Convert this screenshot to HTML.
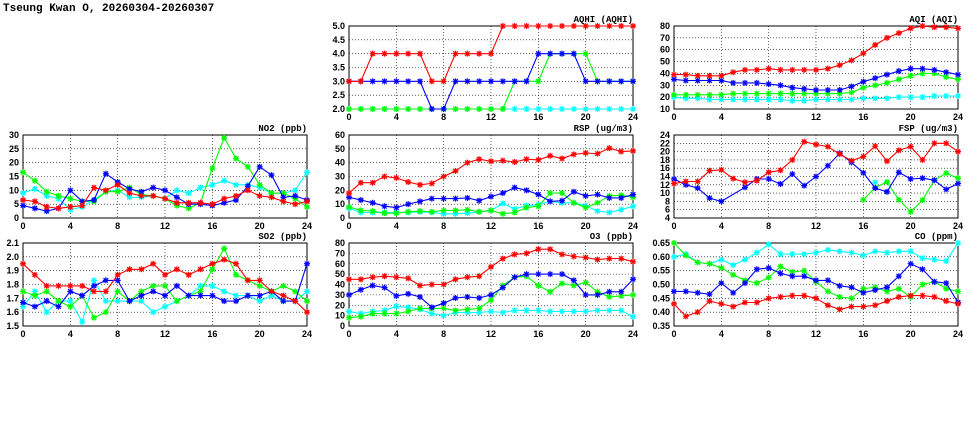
<!DOCTYPE html>
<html><head><meta charset="utf-8"><style>
html,body{margin:0;padding:0;background:#fff;}
svg{display:block;font-family:"Liberation Sans",sans-serif;}
</style></head><body>
<svg id="c" width="975" height="447">
<text x="3" y="11" font-family="Liberation Mono, monospace" font-size="11" font-weight="bold">Tseung Kwan O, 20260304-20260307</text>
</svg>
<script>
const hours = [0,1,2,3,4,5,6,7,8,9,10,11,12,13,14,15,16,17,18,19,20,21,22,23,24];
const xTicks = [0,4,8,12,16,20,24];
const seriesColors = ['#00ffff','#00ff00','#0000ff','#ff0000'];
const seriesNames = ['cyan','green','blue','red'];
const N = null;

const aqhiCyan = [2,2,2,2,2,2,2,2,2,2,2,2,2,2,2,2,2,2,2,2,2,2,2,2,2];
const aqhiGreen = [2,2,2,2,2,2,2,2,2,2,2,2,2,2,3,3,3,4,4,4,4,3,3,3,3];
const aqhiBlue = [3,3,3,3,3,3,3,2,2,3,3,3,3,3,3,3,4,4,4,4,3,3,3,3,3];
const aqhiRed = [3,3,4,4,4,4,4,3,3,4,4,4,4,5,5,5,5,5,5,5,5,5,5,5,5];
const aqhiTicks = [2,2.5,3,3.5,4,4.5,5];

const aqiCyan = [20,19,19,18,18,18,18,18,18,18,17,17,18,18,18,18,19,19,19,20,20,20,21,21,21];
const aqiGreen = [22,22,22,22,22,23,23,23,23,23,23,23,23,23,23,24,28,30,32,35,38,40,40,37,35];
const aqiBlue = [35,34,34,34,34,32,32,32,31,30,28,27,26,26,26,29,33,36,39,42,44,44,43,41,39];
const aqiRed = [39,39,38,38,38,41,43,43,44,43,43,43,43,44,47,51,57,64,70,74,78,80,79,79,78];
const aqiTicks = [10,20,30,40,50,60,70,80];

const no2Cyan = [9,10.5,8,7,3,4,6.5,9.5,10,7.5,7.5,8,7,10,9,11,12,13.5,12,12,11,9,9,10,16.5];
const no2Green = [16.5,13.5,9.5,8,7,6,6,9.5,9.5,11,8.5,8,7,4.5,3.5,5.5,18,29,21.5,18.5,12,9,9,7,4];
const no2Blue = [4.5,3.5,2.5,3.5,10,6,6.5,16,13,10.5,9.5,11,10,7.5,5,5,4.5,5.5,6.5,11.5,18.5,15.5,7.5,8,6.5];
const no2Red = [6.5,6,4,3.5,4,4.5,11,10,12,9,8,8,7,5.5,5.5,5.5,5,7,8,10,8,7.5,6,5,6];
const no2Ticks = [0,5,10,15,20,25,30];

const rspCyan = [7,4,4,4,4,4,4.5,4,3,3,3.5,4.5,5.5,10.5,6.5,9,9.5,12,11,11,9,5,4,6,8.5];
const rspGreen = [8,5.5,5,3.5,3.5,4.5,5,4.5,5.5,5.5,6,4.5,5.5,3,4,7.5,8.5,18,18,11,7.5,11,16,16.5,15];
const rspBlue = [15,13,11,8.5,7.5,10,12,14,14,14,14.5,12.5,15.5,18,22,20,17,12,12.5,19,16,17,14.5,14.5,17];
const rspRed = [18,25.5,25.5,30,29,26,24,25,30,34,40,42.5,41,41.5,40.5,42.5,42,45,43,46,47,46.5,50.5,48,48.5];
const rspTicks = [0,10,20,30,40,50,60];

const fspCyan = [N,N,N,N,N,N,N,N,N,N,N,N,N,N,N,N,N,12.6,N,N,N,N,N,N,N];
const fspGreen = [N,N,N,N,N,N,N,N,N,N,N,N,N,N,N,N,8.4,11.3,12.7,8.4,5.5,8.3,13.1,14.8,13.6];
const fspBlue = [13.4,12,11.2,8.8,8,N,11.4,13.4,13.4,12.2,14.6,11.8,14,16.6,19.6,17.4,14.9,11.2,10.3,15,13.4,13.6,13.1,10.9,12.3];
const fspRed = [12.3,12.8,12.8,15.4,15.6,13.5,12.6,13,15,15.5,18,22.4,21.7,21.2,19.4,17.8,18.8,21.3,17.7,20.3,21.2,18,22,22,20];
const fspTicks = [4,6,8,10,12,14,16,18,20,22,24];

const so2Cyan = [1.64,1.75,1.60,1.68,1.68,1.53,1.83,1.68,1.68,1.68,1.68,1.60,1.64,1.68,1.72,1.79,1.79,1.75,1.72,1.72,1.68,1.72,1.68,1.68,1.75];
const so2Green = [1.75,1.72,1.75,1.68,1.64,1.72,1.56,1.60,1.75,1.68,1.75,1.79,1.79,1.68,1.72,1.75,1.91,2.06,1.87,1.83,1.79,1.75,1.79,1.75,1.68];
const so2Blue = [1.67,1.64,1.68,1.64,1.75,1.72,1.79,1.83,1.83,1.68,1.72,1.75,1.72,1.79,1.72,1.72,1.72,1.68,1.68,1.72,1.72,1.75,1.68,1.68,1.95];
const so2Red = [1.95,1.87,1.79,1.79,1.79,1.79,1.75,1.75,1.87,1.91,1.91,1.95,1.87,1.91,1.87,1.91,1.95,1.98,1.95,1.83,1.83,1.75,1.72,1.68,1.60];
const so2Ticks = [1.5,1.6,1.7,1.8,1.9,2.0,2.1];

const o3Cyan = [14,12,14,15,19,18,16,12,10,13,13,13,14,13,15,15,15,14,14,14,14,15,15,15,9];
const o3Green = [8,9,12,12,12,14,17,17,17,15,16,17,25,39,47,48,39,33,41,39,42,33,28,29,30];
const o3Blue = [30,35,39,37,29,31,28,18,22,27,28,27,30,37,47,50,50,50,50,44,30,30,33,33,45];
const o3Red = [45,45,47,48,47,46,39,40,40,45,47,48,57,65,69,70,74,74,69,67,66,64,65,65,62];
const o3Ticks = [0,10,20,30,40,50,60,70,80];

const coCyan = [0.60,0.61,0.58,0.575,0.59,0.57,0.59,0.615,0.645,0.61,0.61,0.61,0.615,0.625,0.62,0.615,0.605,0.62,0.615,0.62,0.62,0.595,0.59,0.585,0.65];
const coGreen = [0.65,0.605,0.58,0.575,0.56,0.535,0.515,0.505,0.525,0.565,0.545,0.55,0.51,0.475,0.455,0.45,0.485,0.49,0.475,0.485,0.455,0.50,0.51,0.485,0.475];
const coBlue = [0.475,0.475,0.47,0.465,0.505,0.47,0.505,0.555,0.56,0.54,0.53,0.53,0.515,0.515,0.495,0.49,0.47,0.48,0.49,0.53,0.575,0.555,0.51,0.505,0.435];
const coRed = [0.43,0.385,0.40,0.44,0.43,0.42,0.435,0.435,0.45,0.455,0.46,0.46,0.45,0.425,0.41,0.42,0.42,0.425,0.44,0.455,0.46,0.46,0.455,0.44,0.43];
const coTicks = [0.35,0.40,0.45,0.50,0.55,0.60,0.65];

const panels = [
 {name:'aqhi',title:'AQHI (AQHI)',x:349,y:26,series:[aqhiCyan,aqhiGreen,aqhiBlue,aqhiRed],ticks:aqhiTicks,dec:1},
 {name:'aqi',title:'AQI (AQI)',x:674,y:26,series:[aqiCyan,aqiGreen,aqiBlue,aqiRed],ticks:aqiTicks,dec:0},
 {name:'no2',title:'NO2 (ppb)',x:23,y:135,series:[no2Cyan,no2Green,no2Blue,no2Red],ticks:no2Ticks,dec:0},
 {name:'rsp',title:'RSP (ug/m3)',x:349,y:135,series:[rspCyan,rspGreen,rspBlue,rspRed],ticks:rspTicks,dec:0},
 {name:'fsp',title:'FSP (ug/m3)',x:674,y:135,series:[fspCyan,fspGreen,fspBlue,fspRed],ticks:fspTicks,dec:0},
 {name:'so2',title:'SO2 (ppb)',x:23,y:243,series:[so2Cyan,so2Green,so2Blue,so2Red],ticks:so2Ticks,dec:1},
 {name:'o3',title:'O3 (ppb)',x:349,y:243,series:[o3Cyan,o3Green,o3Blue,o3Red],ticks:o3Ticks,dec:0},
 {name:'co',title:'CO (ppm)',x:674,y:243,series:[coCyan,coGreen,coBlue,coRed],ticks:coTicks,dec:2},
];
const W=284, H=83;
const svg=document.getElementById('c');
const NS='http://www.w3.org/2000/svg';
function mk(tag,attrs,parent){const e=document.createElementNS(NS,tag);for(const k in attrs)e.setAttribute(k,attrs[k]);(parent||svg).appendChild(e);return e;}

panels.forEach(p=>{
 const g=mk('g',{});
 
 
 const ymin=p.ticks[0], ymax=p.ticks[p.ticks.length-1];
 const xs=h=>p.x+h/24*W;
 const ys=v=>p.y+H-(v-ymin)/(ymax-ymin)*H;
 // grid
 p.ticks.forEach(t=>{
  const yy=ys(t);
  if(t!==ymin&&t!==ymax){const l=mk('line',{x1:p.x,x2:p.x+W,y1:yy,y2:yy,stroke:'#000','stroke-width':0.6,'stroke-dasharray':'1,2'},g);
   
   }
  const tx=mk('text',{x:p.x-4,y:yy+3,'text-anchor':'end','font-size':9,'font-weight':'bold'},g);
  tx.textContent=t.toFixed(p.dec);
  
  
 });
 xTicks.forEach(t=>{
  const xx=xs(t);
  if(t!==0&&t!==24){const l=mk('line',{x1:xx,x2:xx,y1:p.y,y2:p.y+H,stroke:'#000','stroke-width':0.6,'stroke-dasharray':'1,2'},g);
   
   }
  const tx=mk('text',{x:xx,y:p.y+H+11,'text-anchor':'middle','font-size':9,'font-weight':'bold'},g);
  tx.textContent=t;
  
  
 });
 const fr=mk('rect',{x:p.x,y:p.y,width:W,height:H,fill:'none',stroke:'#000','stroke-width':1},g);
 
 
 const tt=mk('text',{x:p.x+W,y:p.y-4,'text-anchor':'end','font-size':9,'font-weight':'bold','font-family':'Liberation Mono, monospace'},g);
 tt.textContent=p.title;
 
 
 p.series.forEach((arr,si)=>{
  const col=seriesColors[si];
  const pts=[];
  arr.forEach((v,i)=>{if(v!==null)pts.push(xs(hours[i]).toFixed(1)+','+ys(v).toFixed(1));});
  if(pts.length>1){const pl=mk('polyline',{points:pts.join(' '),fill:'none',stroke:col,'stroke-width':1.1},g);
   
   }
  arr.forEach((v,i)=>{
   if(v===null)return;
   const cx=xs(hours[i]),cy=ys(v),r=3;
   const m=mk('path',{d:`M${cx-r},${cy}H${cx+r}M${cx},${cy-r}V${cy+r}M${cx-r*0.75},${cy-r*0.75}L${cx+r*0.75},${cy+r*0.75}M${cx-r*0.75},${cy+r*0.75}L${cx+r*0.75},${cy-r*0.75}`,stroke:col,'stroke-width':1.2,fill:'none'},g);
   
   
  });
 });
});
</script>
</body></html>
